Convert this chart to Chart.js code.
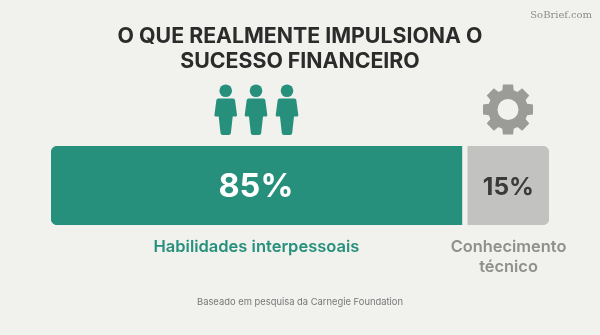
<!DOCTYPE html>
<html><head><meta charset="utf-8">
<script src="https://cdn.jsdelivr.net/npm/chart.js@4"></script>
<style>html,body{margin:0;padding:0;background:#f1f1ed;overflow:hidden}#w{position:relative;width:600px;height:335px}canvas{display:block}</style>
</head><body><div id="w"><canvas id="c" width="600" height="335"></canvas></div>
<script>
const titleLines = ["O QUE REALMENTE IMPULSIONA O", "SUCESSO FINANCEIRO"];
const categories = ["Habilidades interpessoais", "Conhecimento técnico"];
const shareLabels = ["85%", "15%"];
// Bar extents as drawn in the picture, in percent of the full track
const barStart = [0, 83.7];
const barEnd = [82.5, 100];
const barColors = ["#26907c", "#c2c2c0"];
const captionColors = ["#26907c", "#8f8f8c"];
const shareColors = ["#ffffff", "#3a3a3a"];
const footnote = "Baseado em pesquisa da Carnegie Foundation";
const watermark = "SoBrief.com";
const FF = "Inter, 'Noto Sans', sans-serif";

function person(ctx, cx){
  ctx.fillStyle = "#26907c";
  ctx.beginPath(); ctx.arc(cx, 90.8, 6.3, 0, Math.PI*2); ctx.fill();
  ctx.beginPath();
  ctx.moveTo(cx-7.5, 98.5);
  ctx.quadraticCurveTo(cx-9,98.5,cx-9.3,100);
  ctx.lineTo(cx-11.3, 115);
  ctx.quadraticCurveTo(cx-11.3,116.5,cx-10,116.5);
  ctx.lineTo(cx-7, 116.5);
  ctx.lineTo(cx-5.2, 133);
  ctx.quadraticCurveTo(cx-5,135,cx-3,135);
  ctx.lineTo(cx+3, 135);
  ctx.quadraticCurveTo(cx+5,135,cx+5.2,133);
  ctx.lineTo(cx+7, 116.5);
  ctx.lineTo(cx+10, 116.5);
  ctx.quadraticCurveTo(cx+11.3,116.5,cx+11.3,115);
  ctx.lineTo(cx+9.3, 100);
  ctx.quadraticCurveTo(cx+9,98.5,cx+7.5,98.5);
  ctx.closePath(); ctx.fill();
}
function gear(ctx, cx, cy){
  const n = 8, R = 25.5, r = 20;
  ctx.fillStyle = "#9b9b98";
  ctx.beginPath();
  for(let i=0;i<n;i++){
    const a = i/n*Math.PI*2 - Math.PI/2, w = 0.2, v = 0.29;
    const pts = [[r,a-v],[R,a-w],[R,a+w],[r,a+v]];
    pts.forEach((p,k)=>{const x=cx+p[0]*Math.cos(p[1]),y=cy+p[0]*Math.sin(p[1]); (i===0&&k===0)?ctx.moveTo(x,y):ctx.lineTo(x,y);});
  }
  ctx.closePath();
  ctx.moveTo(cx+10.5,cy); ctx.arc(cx,cy,10.5,0,Math.PI*2,true);
  ctx.fill("evenodd");
}
const decor = {
  id:"decor",
  afterDatasetsDraw(chart){
    const {ctx, scales:{x}, chartArea:a} = chart;
    ctx.save();
    ctx.textAlign="center"; ctx.textBaseline="middle";
    ctx.fillStyle="#2b2b2b"; ctx.font="700 21.3px "+FF;
    titleLines.forEach((t,i)=>ctx.fillText(t,300,37+i*25));
    const centers = barStart.map((s,i)=>(x.getPixelForValue(s)+x.getPixelForValue(barEnd[i]))/2);
    const mid=(a.top+a.bottom)/2;
    ctx.fillStyle=shareColors[0]; ctx.font="700 32.5px "+FF; ctx.fillText(shareLabels[0],centers[0]-.5,mid+2);
    ctx.fillStyle=shareColors[1]; ctx.font="700 24.5px "+FF; ctx.fillText(shareLabels[1],centers[1],mid+2);
    ctx.fillStyle=captionColors[0]; ctx.font="600 16.5px "+FF; ctx.fillText(categories[0],centers[0],247);
    ctx.fillStyle=captionColors[1]; ctx.font="600 16.4px "+FF;
    ctx.fillText("Conhecimento",508.5,247); ctx.fillText("técnico",508.5,267);
    ctx.fillStyle="#77777a"; ctx.font="400 9.4px "+FF; ctx.fillText(footnote,300,302);
    ctx.fillStyle="#8d8d8a"; ctx.font="400 10px 'DejaVu Serif', serif"; ctx.textAlign="right"; ctx.fillText(watermark,592,15);
    [225.7,256,287].forEach(cx=>person(ctx,cx));
    gear(ctx,508,109.5);
    ctx.restore();
  }
};
new Chart(document.getElementById("c"),{
  type:"bar",
  plugins:[decor],
  data:{labels:[""],datasets:categories.map((c,i)=>({
    label:c,
    data:[[barStart[i],barEnd[i]]],
    backgroundColor:barColors[i],
    borderSkipped:false,
    borderWidth:0,
    borderRadius:i===0?{topLeft:7,bottomLeft:7,topRight:0,bottomRight:0}:{topLeft:0,bottomLeft:0,topRight:7,bottomRight:7},
    grouped:false,barPercentage:1,categoryPercentage:1
  }))},
  options:{
    indexAxis:"y",responsive:false,animation:false,
    layout:{padding:{left:51,right:51,top:146,bottom:110}},
    plugins:{legend:{display:false},tooltip:{enabled:false}},
    scales:{x:{display:false,min:0,max:100},y:{display:false}}
  }
});
</script></body></html>
